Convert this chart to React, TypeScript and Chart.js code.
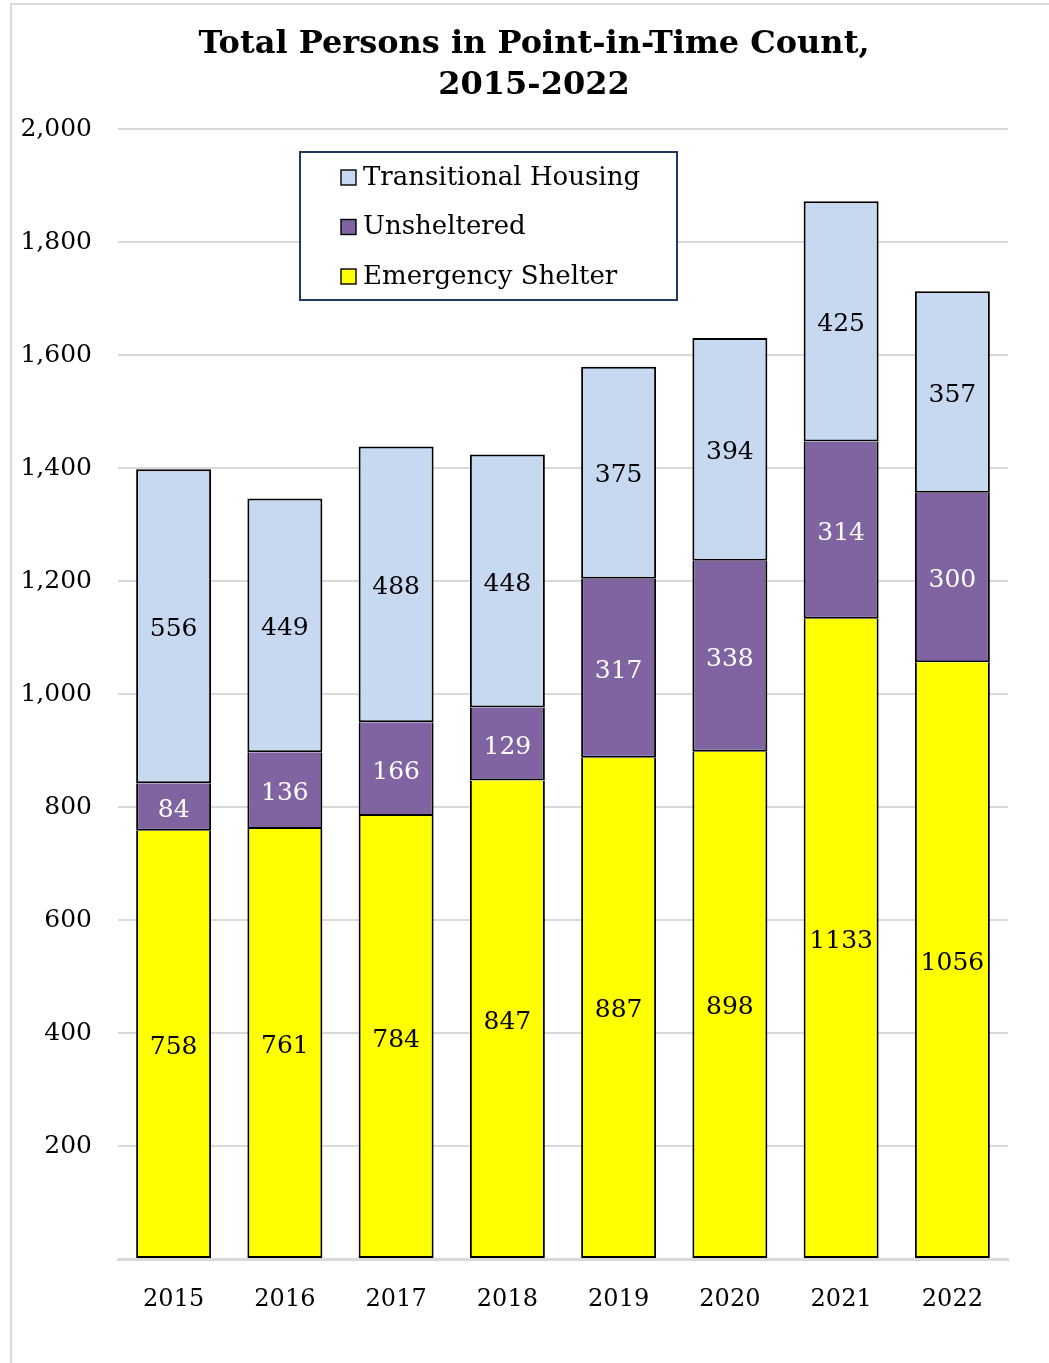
import React, { useEffect, useRef } from "react";
import { Chart, registerables } from "chart.js";
Chart.register(...registerables);

const years = ["2015", "2016", "2017", "2018", "2019", "2020", "2021", "2022"];
const emergencyShelter = [758, 761, 784, 847, 887, 898, 1133, 1056];
const unsheltered = [84, 136, 166, 129, 317, 338, 314, 300];
const transitionalHousing = [556, 449, 488, 448, 375, 394, 425, 357];
const titleLines = ["Total Persons in Point-in-Time Count,", "2015-2022"];
const yMax = 2000;
const yStep = 200;

const FONT = "'DejaVu Serif', 'Liberation Serif', serif";

const labelColors = ["#000000", "#FFFFFF", "#000000"];

const overlayPlugin = {
  id: "overlay",
  afterDatasetsDraw(chart: any) {
    const ctx = chart.ctx;
    ctx.save();
    ctx.font = `25px ${FONT}`;
    ctx.textAlign = "center";
    ctx.textBaseline = "middle";
    chart.data.datasets.forEach((ds: any, i: number) => {
      const meta = chart.getDatasetMeta(i);
      ctx.fillStyle = labelColors[i];
      meta.data.forEach((el: any, j: number) => {
        const cy = (el.y + el.base) / 2;
        ctx.fillText(String(ds.data[j]), el.x, cy + 3);
      });
    });
    ctx.restore();
  },
  afterDraw(chart: any) {
    const ctx = chart.ctx;
    ctx.save();
    // title
    ctx.fillStyle = "#000";
    ctx.font = `bold 32px ${FONT}`;
    ctx.textAlign = "center";
    ctx.textBaseline = "middle";
    ctx.fillText(titleLines[0], 534, 45);
    ctx.fillText(titleLines[1], 534, 86);
    // legend
    const bx = 300, by = 152, bw = 377, bh = 148;
    ctx.fillStyle = "#FFFFFF";
    ctx.fillRect(bx, by, bw, bh);
    ctx.strokeStyle = "#203864";
    ctx.lineWidth = 2;
    ctx.strokeRect(bx, by, bw, bh);
    const items = chart.data.datasets.map((d: any) => d).reverse();
    ctx.font = `26px ${FONT}`;
    ctx.textAlign = "left";
    items.forEach((d: any, k: number) => {
      const cy = 177 + k * 49.5;
      ctx.fillStyle = d.backgroundColor;
      ctx.fillRect(341, cy - 7, 15, 15);
      ctx.strokeStyle = "#000";
      ctx.lineWidth = 1.4;
      ctx.strokeRect(341, cy - 7, 15, 15);
      ctx.fillStyle = "#000";
      ctx.fillText(d.label, 363, cy + 1);
    });
    ctx.restore();
  },
};

export default function App() {
  const ref = useRef<HTMLCanvasElement | null>(null);
  useEffect(() => {
    document.body.style.margin = "0";
    document.body.style.overflow = "hidden";
    const chart = new Chart(ref.current as HTMLCanvasElement, {
      type: "bar",
      data: {
        labels: years,
        datasets: [
          {
            label: "Emergency Shelter",
            data: emergencyShelter,
            backgroundColor: "#FFFF00",
            borderColor: "#000000",
            borderWidth: 2,
            borderSkipped: "top",
          },
          {
            label: "Unsheltered",
            data: unsheltered,
            backgroundColor: "#8064A2",
            borderColor: "#000000",
            borderWidth: 2,
            borderSkipped: "top",
          },
          {
            label: "Transitional Housing",
            data: transitionalHousing,
            backgroundColor: "#C6D9F1",
            borderColor: "#000000",
            borderWidth: 2,
            borderSkipped: false,
          },
        ],
      },
      options: {
        responsive: false,
        animation: false,
        datasets: { bar: { categoryPercentage: 1, barPercentage: 0.674 } },
        layout: { padding: { top: 129, left: 0, right: 41, bottom: 0 } },
        plugins: {
          legend: { display: false },
          title: { display: false },
          tooltip: { enabled: false },
        },
        scales: {
          x: {
            stacked: true,
            grid: { display: false },
            border: { display: true, color: "#D9D9D9", width: 3 },
            ticks: {
              padding: 18,
              color: "#000",
              font: { family: FONT, size: 24 },
              maxRotation: 0,
            },
            afterFit(scale: any) {
              scale.height = 104;
            },
          },
          y: {
            stacked: true,
            min: 0,
            max: yMax,
            border: { display: false },
            grid: { color: "#D9D9D9", lineWidth: 2, drawTicks: false },
            ticks: {
              stepSize: yStep,
              padding: 26,
              color: "#000",
              font: { family: FONT, size: 25 },
              callback: (v: any) => (v === 0 ? "" : Number(v).toLocaleString("en-US")),
            },
            afterFit(scale: any) {
              scale.width = 118;
            },
          },
        },
      },
      plugins: [overlayPlugin],
    });
    return () => chart.destroy();
  }, []);
  return (
    <div style={{ position: "relative", width: 1049, height: 1363, overflow: "hidden", background: "#fff" }}>
      <div
        style={{
          position: "absolute",
          left: 10,
          top: 3,
          width: 1100,
          height: 1400,
          borderLeft: "2px solid #D9D9D9",
          borderTop: "2px solid #D9D9D9",
          boxSizing: "border-box",
        }}
      />
      <canvas ref={ref} width={1049} height={1363} style={{ position: "absolute", left: 0, top: 0 }} />
    </div>
  );
}
